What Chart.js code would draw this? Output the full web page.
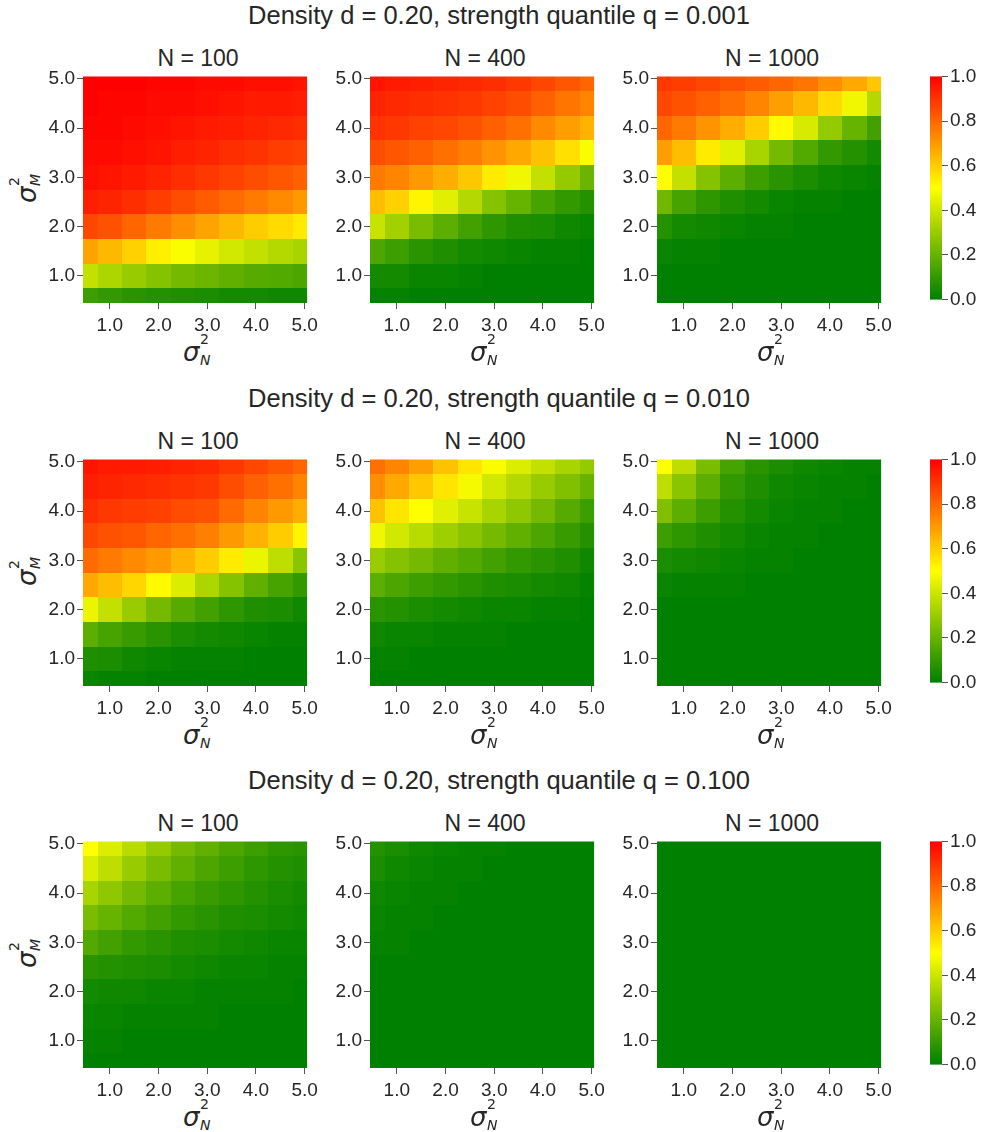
<!DOCTYPE html>
<html>
<head>
<meta charset="utf-8">
<title>Heatmaps</title>
<script src="https://cdn.jsdelivr.net/npm/chart.js"></script>
<style>
  body { margin:0; width:982px; height:1132px; background:#fff; position:relative; overflow:hidden;
         font-family:"Liberation Sans", Arial, sans-serif; color:#262626; }
  canvas { position:absolute; }
  .rowtitle { position:absolute; left:0; width:998px; text-align:center; font-size:25.5px; line-height:30px; white-space:nowrap; }
  .ptitle { position:absolute; width:230px; text-align:center; font-size:23px; line-height:30px; white-space:nowrap; }
  .sig { position:absolute; width:40px; height:40px; font-family:"DejaVu Sans", sans-serif; color:#262626; }
  .sig span { position:absolute; white-space:nowrap; }
  .s1 { font-size:26px; line-height:26px; font-style:italic; left:5px; top:9px; }
  .s2 { font-size:14px; line-height:14px; left:22px; top:2px; }
  .s3 { font-size:14px; line-height:14px; font-style:italic; left:22px; top:23px; }
</style>
</head>
<body>
<script>
// grid of the heatmaps: columns sigma_N^2, rows sigma_M^2 (top row first)
const xVals = [0.5, 1.0, 1.5, 2.0, 2.5, 3.0, 3.5, 4.0, 4.5, 5.0];
const yVals = [5.0, 4.5, 4.0, 3.5, 3.0, 2.5, 2.0, 1.5, 1.0, 0.5];
const xTicks = [1.0, 2.0, 3.0, 4.0, 5.0];
const yTicks = [1.0, 2.0, 3.0, 4.0, 5.0];
const cbarTicks = [0.0, 0.2, 0.4, 0.6, 0.8, 1.0];
const nValues = [100, 400, 1000];
const qLabels = ['0.001', '0.010', '0.100'];
const densityLabel = '0.20';

// q = 0.001
const q001_N100 = [
  [1.00,1.00,1.00,0.99,0.99,0.98,0.98,0.97,0.97,0.96],
  [1.00,0.99,0.99,0.98,0.98,0.97,0.96,0.95,0.95,0.94],
  [0.99,0.99,0.98,0.97,0.96,0.95,0.94,0.93,0.92,0.91],
  [0.98,0.98,0.97,0.96,0.94,0.93,0.91,0.90,0.88,0.87],
  [0.97,0.96,0.95,0.93,0.91,0.89,0.87,0.85,0.83,0.81],
  [0.94,0.93,0.91,0.88,0.85,0.82,0.79,0.76,0.73,0.70],
  [0.86,0.84,0.80,0.76,0.72,0.68,0.64,0.60,0.57,0.54],
  [0.68,0.64,0.59,0.53,0.49,0.45,0.41,0.38,0.35,0.33],
  [0.38,0.34,0.30,0.26,0.23,0.21,0.19,0.17,0.16,0.15],
  [0.12,0.10,0.08,0.07,0.06,0.05,0.04,0.04,0.03,0.03]
];
const q001_N400 = [
  [0.96,0.95,0.94,0.93,0.92,0.91,0.89,0.86,0.83,0.80],
  [0.93,0.92,0.91,0.90,0.89,0.87,0.85,0.81,0.77,0.74],
  [0.90,0.89,0.87,0.86,0.84,0.81,0.78,0.73,0.69,0.65],
  [0.85,0.83,0.81,0.78,0.75,0.71,0.67,0.62,0.56,0.49],
  [0.76,0.74,0.70,0.66,0.61,0.54,0.47,0.38,0.29,0.21],
  [0.63,0.59,0.52,0.44,0.35,0.26,0.20,0.14,0.10,0.07],
  [0.39,0.32,0.24,0.18,0.13,0.09,0.06,0.05,0.03,0.02],
  [0.15,0.12,0.08,0.06,0.04,0.03,0.02,0.01,0.01,0.00],
  [0.04,0.04,0.02,0.02,0.01,0.00,0.00,0.00,0.00,0.00],
  [0.01,0.01,0.00,0.00,0.00,0.00,0.00,0.00,0.00,0.00]
];
const q001_N1000 = [
  [0.89,0.88,0.86,0.84,0.82,0.80,0.77,0.72,0.67,0.61],
  [0.86,0.84,0.81,0.78,0.74,0.69,0.64,0.57,0.47,0.35],
  [0.80,0.76,0.71,0.66,0.60,0.51,0.42,0.29,0.20,0.13],
  [0.69,0.63,0.54,0.44,0.33,0.23,0.16,0.10,0.07,0.04],
  [0.50,0.38,0.26,0.18,0.12,0.08,0.05,0.03,0.02,0.01],
  [0.22,0.14,0.09,0.06,0.04,0.02,0.01,0.01,0.00,0.00],
  [0.07,0.04,0.03,0.02,0.01,0.01,0.00,0.00,0.00,0.00],
  [0.02,0.01,0.01,0.00,0.00,0.00,0.00,0.00,0.00,0.00],
  [0.00,0.00,0.00,0.00,0.00,0.00,0.00,0.00,0.00,0.00],
  [0.00,0.00,0.00,0.00,0.00,0.00,0.00,0.00,0.00,0.00]
];
// q = 0.010
const q010_N100 = [
  [0.96,0.95,0.95,0.94,0.93,0.92,0.89,0.86,0.83,0.80],
  [0.94,0.93,0.92,0.91,0.90,0.89,0.85,0.81,0.78,0.74],
  [0.91,0.89,0.88,0.87,0.85,0.84,0.79,0.74,0.70,0.66],
  [0.86,0.84,0.83,0.80,0.78,0.75,0.70,0.65,0.60,0.52],
  [0.79,0.76,0.73,0.70,0.65,0.60,0.54,0.46,0.37,0.27],
  [0.67,0.63,0.58,0.51,0.43,0.34,0.26,0.19,0.14,0.10],
  [0.46,0.38,0.30,0.23,0.17,0.13,0.09,0.06,0.05,0.03],
  [0.18,0.14,0.11,0.08,0.05,0.04,0.03,0.02,0.01,0.01],
  [0.06,0.05,0.03,0.02,0.01,0.01,0.01,0.00,0.00,0.00],
  [0.02,0.01,0.01,0.00,0.00,0.00,0.00,0.00,0.00,0.00]
];
const q010_N400 = [
  [0.78,0.74,0.69,0.62,0.55,0.49,0.43,0.38,0.33,0.29],
  [0.72,0.67,0.61,0.55,0.48,0.41,0.35,0.30,0.25,0.20],
  [0.62,0.55,0.50,0.44,0.39,0.33,0.28,0.23,0.17,0.12],
  [0.47,0.41,0.36,0.31,0.27,0.23,0.19,0.15,0.11,0.07],
  [0.30,0.26,0.23,0.19,0.16,0.13,0.10,0.08,0.06,0.03],
  [0.18,0.15,0.12,0.10,0.08,0.06,0.05,0.04,0.03,0.01],
  [0.08,0.07,0.05,0.04,0.03,0.02,0.02,0.01,0.01,0.00],
  [0.03,0.02,0.02,0.01,0.01,0.01,0.00,0.00,0.00,0.00],
  [0.01,0.01,0.00,0.00,0.00,0.00,0.00,0.00,0.00,0.00],
  [0.00,0.00,0.00,0.00,0.00,0.00,0.00,0.00,0.00,0.00]
];
const q010_N1000 = [
  [0.50,0.37,0.24,0.14,0.08,0.05,0.03,0.02,0.01,0.01],
  [0.37,0.27,0.18,0.10,0.06,0.03,0.02,0.01,0.01,0.00],
  [0.25,0.18,0.12,0.07,0.04,0.02,0.01,0.01,0.00,0.00],
  [0.12,0.09,0.06,0.04,0.02,0.01,0.01,0.00,0.00,0.00],
  [0.05,0.04,0.03,0.02,0.01,0.01,0.00,0.00,0.00,0.00],
  [0.02,0.01,0.01,0.01,0.00,0.00,0.00,0.00,0.00,0.00],
  [0.00,0.00,0.00,0.00,0.00,0.00,0.00,0.00,0.00,0.00],
  [0.00,0.00,0.00,0.00,0.00,0.00,0.00,0.00,0.00,0.00],
  [0.00,0.00,0.00,0.00,0.00,0.00,0.00,0.00,0.00,0.00],
  [0.00,0.00,0.00,0.00,0.00,0.00,0.00,0.00,0.00,0.00]
];
// q = 0.100
const q100_N100 = [
  [0.50,0.43,0.36,0.29,0.23,0.19,0.15,0.12,0.09,0.08],
  [0.43,0.37,0.30,0.24,0.19,0.15,0.12,0.09,0.07,0.06],
  [0.33,0.28,0.23,0.18,0.14,0.11,0.09,0.07,0.05,0.04],
  [0.24,0.20,0.16,0.13,0.10,0.08,0.06,0.05,0.04,0.03],
  [0.16,0.13,0.10,0.08,0.06,0.05,0.04,0.03,0.02,0.02],
  [0.08,0.07,0.06,0.05,0.04,0.03,0.02,0.02,0.01,0.01],
  [0.04,0.03,0.03,0.02,0.02,0.01,0.01,0.01,0.01,0.00],
  [0.02,0.02,0.01,0.01,0.01,0.01,0.00,0.00,0.00,0.00],
  [0.01,0.01,0.00,0.00,0.00,0.00,0.00,0.00,0.00,0.00],
  [0.00,0.00,0.00,0.00,0.00,0.00,0.00,0.00,0.00,0.00]
];
const q100_N400 = [
  [0.07,0.05,0.03,0.02,0.01,0.01,0.00,0.00,0.00,0.00],
  [0.05,0.03,0.02,0.01,0.01,0.00,0.00,0.00,0.00,0.00],
  [0.03,0.02,0.01,0.01,0.00,0.00,0.00,0.00,0.00,0.00],
  [0.02,0.01,0.01,0.00,0.00,0.00,0.00,0.00,0.00,0.00],
  [0.01,0.01,0.00,0.00,0.00,0.00,0.00,0.00,0.00,0.00],
  [0.00,0.00,0.00,0.00,0.00,0.00,0.00,0.00,0.00,0.00],
  [0.00,0.00,0.00,0.00,0.00,0.00,0.00,0.00,0.00,0.00],
  [0.00,0.00,0.00,0.00,0.00,0.00,0.00,0.00,0.00,0.00],
  [0.00,0.00,0.00,0.00,0.00,0.00,0.00,0.00,0.00,0.00],
  [0.00,0.00,0.00,0.00,0.00,0.00,0.00,0.00,0.00,0.00]
];
const q100_N1000 = [
  [0.00,0.00,0.00,0.00,0.00,0.00,0.00,0.00,0.00,0.00],
  [0.00,0.00,0.00,0.00,0.00,0.00,0.00,0.00,0.00,0.00],
  [0.00,0.00,0.00,0.00,0.00,0.00,0.00,0.00,0.00,0.00],
  [0.00,0.00,0.00,0.00,0.00,0.00,0.00,0.00,0.00,0.00],
  [0.00,0.00,0.00,0.00,0.00,0.00,0.00,0.00,0.00,0.00],
  [0.00,0.00,0.00,0.00,0.00,0.00,0.00,0.00,0.00,0.00],
  [0.00,0.00,0.00,0.00,0.00,0.00,0.00,0.00,0.00,0.00],
  [0.00,0.00,0.00,0.00,0.00,0.00,0.00,0.00,0.00,0.00],
  [0.00,0.00,0.00,0.00,0.00,0.00,0.00,0.00,0.00,0.00],
  [0.00,0.00,0.00,0.00,0.00,0.00,0.00,0.00,0.00,0.00]
];

const panels = [
  [q001_N100, q001_N400, q001_N1000],
  [q010_N100, q010_N400, q010_N1000],
  [q100_N100, q100_N400, q100_N1000]
];

// layout (pixels)
const colLeft = [83, 370, 657];
const rowTop = [73, 456, 838];
const SIZE = 230;
const CBAR_LEFT = 930, CBAR_W = 12;

// green -> yellow -> red
function cmap(v) {
  v = Math.max(0, Math.min(1, v));
  let r, g;
  if (v <= 0.5) { const t = v / 0.5; r = 255 * t; g = 128 + 127 * t; }
  else { const t = (v - 0.5) / 0.5; r = 255; g = 255 * (1 - t); }
  return 'rgb(' + Math.round(r) + ',' + Math.round(g) + ',0)';
}

const heatPlugin = {
  id: 'heat',
  beforeDatasetsDraw(chart) {
    const { ctx, chartArea, scales: { x, y } } = chart;
    const hw = (xVals[1] - xVals[0]) / 2, hh = (yVals[0] - yVals[1]) / 2;
    ctx.save();
    ctx.beginPath();
    ctx.rect(chartArea.left, chartArea.top, chartArea.width, chartArea.height);
    ctx.clip();
    chart.data.datasets[0].data.forEach(c => {
      const x0 = Math.round(x.getPixelForValue(c.x - hw)), x1 = Math.round(x.getPixelForValue(c.x + hw));
      const y0 = Math.round(y.getPixelForValue(c.y + hh)), y1 = Math.round(y.getPixelForValue(c.y - hh));
      ctx.fillStyle = cmap(c.v);
      ctx.fillRect(x0, y0, x1 - x0, y1 - y0);
    });
    ctx.restore();
  }
};

const cbarPlugin = {
  id: 'cbar',
  beforeDatasetsDraw(chart) {
    const { ctx, chartArea, scales: { y } } = chart;
    const g = ctx.createLinearGradient(0, y.getPixelForValue(0), 0, y.getPixelForValue(1));
    g.addColorStop(0, cmap(0));
    g.addColorStop(0.5, cmap(0.5));
    g.addColorStop(1, cmap(1));
    ctx.fillStyle = g;
    ctx.fillRect(chartArea.left, chartArea.top, chartArea.width, chartArea.height);
  }
};

const tickFont = { family: 'Liberation Sans', size: 19 };
const gridOpts = { drawOnChartArea: false, drawTicks: true, tickLength: 6, color: '#555', lineWidth: 1 };

function addDiv(cls, text, left, top) {
  const d = document.createElement('div');
  d.className = cls;
  d.textContent = text;
  d.style.left = left + 'px';
  d.style.top = top + 'px';
  document.body.appendChild(d);
}

function addSigma(cx, cy, sub, rotate) {
  const d = document.createElement('div');
  d.className = 'sig';
  d.style.left = (cx - 20) + 'px';
  d.style.top = (cy - 20) + 'px';
  if (rotate) d.style.transform = 'rotate(-90deg)';
  d.innerHTML = '<span class="s1">σ</span><span class="s2">2</span><span class="s3">' + sub + '</span>';
  document.body.appendChild(d);
}

function makeCanvas(left, top, w, h) {
  const c = document.createElement('canvas');
  c.width = w; c.height = h;
  c.style.left = left + 'px'; c.style.top = top + 'px';
  c.style.width = w + 'px'; c.style.height = h + 'px';
  document.body.appendChild(c);
  return c;
}

rowTop.forEach((top, r) => {
  addDiv('rowtitle', 'Density d = ' + densityLabel + ', strength quantile q = ' + qLabels[r], 0, top - 73);
  colLeft.forEach((left, c) => {
    addDiv('ptitle', 'N = ' + nValues[c], left, top - 30);
    addSigma(left + SIZE / 2, top + SIZE + 47, 'N', false);
    if (c === 0) addSigma(25, top + SIZE / 2, 'M', true);

    const matrix = panels[r][c];
    const cells = [];
    yVals.forEach((yv, i) => xVals.forEach((xv, j) => cells.push({ x: xv, y: yv, v: matrix[i][j] })));

    const cv = makeCanvas(left - 83, top - 10, 83 + SIZE + 10, 10 + SIZE + 40);
    new Chart(cv, {
      type: 'scatter',
      data: { datasets: [{ data: cells, pointRadius: 0, showLine: false }] },
      options: {
        responsive: false, animation: false, devicePixelRatio: 1,
        layout: { padding: { top: 10, right: 10, left: 0, bottom: 0 } },
        plugins: { legend: { display: false }, tooltip: { enabled: false } },
        scales: {
          x: {
            type: 'linear', min: 0.45, max: 5.05,
            afterBuildTicks: s => { s.ticks = xTicks.map(v => ({ value: v })); },
            afterFit: s => { s.height = 40; },
            grid: gridOpts, border: { display: false },
            ticks: { callback: v => v.toFixed(1), color: '#262626', font: tickFont, padding: 5, maxRotation: 0, autoSkip: false }
          },
          y: {
            type: 'linear', min: 0.45, max: 5.05,
            afterBuildTicks: s => { s.ticks = yTicks.map(v => ({ value: v })); },
            afterFit: s => { s.width = 83; },
            grid: gridOpts, border: { display: false },
            ticks: { callback: v => v.toFixed(1), color: '#262626', font: tickFont, padding: 2, autoSkip: false }
          }
        }
      },
      plugins: [heatPlugin]
    });
  });

  // colour bar
  const cb = makeCanvas(CBAR_LEFT - 10, top - 10, 10 + CBAR_W + 40, SIZE + 20);
  new Chart(cb, {
    type: 'scatter',
    data: { datasets: [{ data: [], pointRadius: 0 }] },
    options: {
      responsive: false, animation: false, devicePixelRatio: 1,
      layout: { padding: { top: 10, bottom: 10, left: 10, right: 0 } },
      plugins: { legend: { display: false }, tooltip: { enabled: false } },
      scales: {
        x: { display: false, min: 0, max: 1 },
        y: {
          position: 'right', type: 'linear', min: 0, max: 1,
          afterBuildTicks: s => { s.ticks = cbarTicks.map(v => ({ value: v })); },
          afterFit: s => { s.width = 40; },
          grid: gridOpts, border: { display: false },
          ticks: { callback: v => v.toFixed(1), color: '#262626', font: tickFont, padding: 2, autoSkip: false }
        }
      }
    },
    plugins: [cbarPlugin]
  });
});
</script>
</body>
</html>
